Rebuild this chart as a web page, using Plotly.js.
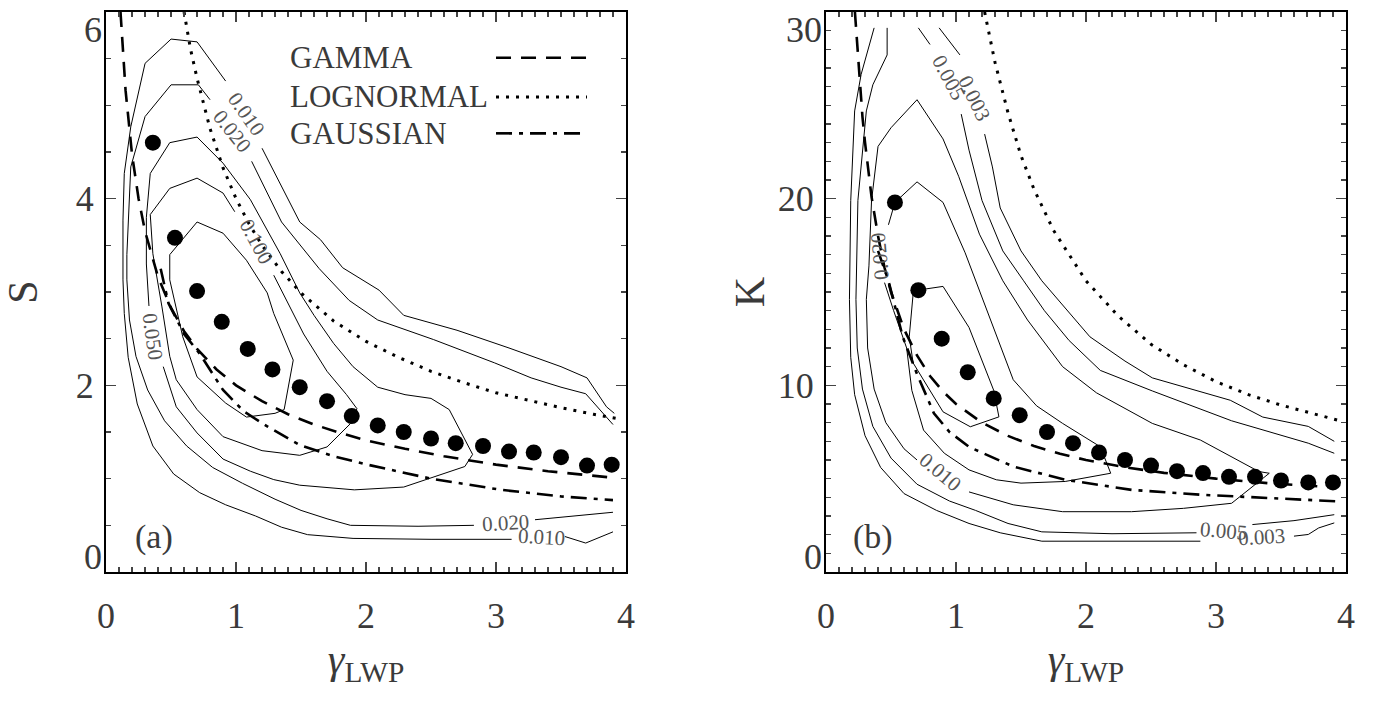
<!DOCTYPE html>
<html>
<head>
<meta charset="utf-8">
<script src="https://cdn.plot.ly/plotly-3.0.1.min.js"></script>
<style>html,body{margin:0;padding:0;background:#fff;}#chart{width:1374px;height:702px;}</style>
</head>
<body>
<div id="chart"></div>
<script>
// ---------------- DATA ----------------
const xTicks = [0, 1, 2, 3, 4];
const sTicks = [0, 2, 4, 6];
const kTicks = [0, 10, 20, 30];

// Panel (a): gamma_LWP vs skewness S
const dotsA_x = [0.36,0.53,0.70,0.89,1.09,1.28,1.49,1.70,1.89,2.09,2.29,2.50,2.69,2.90,3.10,3.29,3.50,3.70,3.89];
const dotsA_y = [4.60,3.58,3.01,2.68,2.39,2.17,1.98,1.83,1.67,1.57,1.50,1.43,1.38,1.35,1.29,1.28,1.23,1.14,1.15];

const gammaA = [[0.111,6.0],[0.13,5.55],[0.15,5.16],[0.2,4.47],[0.25,4.0],[0.3,3.65],[0.4,3.16],[0.5,2.83],[0.6,2.58],[0.7,2.39],[0.85,2.17],[1.0,2.0],[1.2,1.83],[1.4,1.69],[1.6,1.58],[1.8,1.49],[2.0,1.41],[2.3,1.32],[2.6,1.24],[3.0,1.15],[3.4,1.08],[3.9,1.01]];
const lognA = [[0.60,6.0],[0.65,5.6],[0.7,5.29],[0.8,4.75],[0.9,4.33],[1.0,4.0],[1.1,3.73],[1.2,3.50],[1.35,3.22],[1.5,2.99],[1.75,2.69],[2.0,2.47],[2.25,2.30],[2.5,2.15],[2.75,2.03],[3.0,1.92],[3.25,1.84],[3.5,1.76],[3.75,1.69],[3.95,1.64]];
const gaussA = [[0.42,3.25],[0.48,2.88],[0.6,2.55],[0.72,2.34],[0.9,1.95],[1.06,1.72],[1.24,1.56],[1.49,1.36],[1.75,1.24],[2.01,1.15],[2.5,1.0],[3.04,0.88],[3.5,0.81],[3.9,0.77]];

// contour segments, panel (a)
const a010_1 = [[3.12,0.35],[2.50,0.35],[1.90,0.36],[1.55,0.40],[1.35,0.48],[1.15,0.60],[0.92,0.72],[0.72,0.85],[0.52,1.05],[0.36,1.35],[0.24,1.80],[0.17,2.30],[0.14,2.77],[0.13,3.13],[0.13,3.77],[0.14,4.27],[0.19,4.77],[0.26,5.20],[0.30,5.45],[0.50,5.71],[0.70,5.68],[0.92,5.26]];
const a010_2 = [[1.20,4.54],[1.49,3.75],[1.65,3.56],[1.82,3.26],[2.10,3.02],[2.29,2.75],[2.70,2.59],[3.10,2.40],[3.50,2.20],[3.70,2.08],[3.85,1.77],[3.91,1.70]];
const a010_3 = [[3.53,0.38],[3.69,0.31],[3.90,0.43]];
const a020_1 = [[2.83,0.50],[2.40,0.49],[1.88,0.50],[1.70,0.57],[1.50,0.66],[1.30,0.78],[1.05,0.95],[0.82,1.12],[0.62,1.35],[0.45,1.62],[0.32,1.95],[0.23,2.31],[0.18,2.70],[0.16,3.13],[0.16,3.40],[0.17,3.77],[0.19,4.34],[0.30,4.88],[0.50,5.22],[0.71,5.22],[0.80,5.06]];
const a020_2 = [[1.12,4.40],[1.35,3.75],[1.64,3.25],[1.87,2.91],[2.09,2.70],[2.52,2.49],[2.99,2.24],[3.27,2.08],[3.50,1.98],[3.69,1.91],[3.90,1.58]];
const a020_3 = [[3.30,0.56],[3.71,0.61],[3.90,0.64]];
const a050_1 = [[0.33,2.85],[0.31,3.30],[0.31,3.80],[0.34,4.27],[0.49,4.60],[0.70,4.66],[0.90,4.38],[1.11,3.99],[1.34,3.41],[1.49,2.99],[1.60,2.75],[1.75,2.45],[1.90,2.20],[2.09,1.98],[2.30,1.90],[2.50,1.86],[2.64,1.74],[2.82,1.26],[2.76,1.13],[2.47,0.99],[2.29,0.91],[1.91,0.88],[1.49,0.93],[1.29,0.99],[1.11,1.08],[0.90,1.21],[0.70,1.49],[0.54,1.77],[0.44,2.20]];
const a100_1 = [[0.99,3.86],[0.90,4.06],[0.70,4.22],[0.49,4.11],[0.34,3.83],[0.36,3.41],[0.43,2.84],[0.49,2.31],[0.54,2.06],[0.70,1.74],[0.90,1.45],[1.20,1.30],[1.49,1.25],[1.70,1.34],[1.88,1.59],[1.93,1.75],[1.85,1.90],[1.70,2.15],[1.52,2.55],[1.39,2.91],[1.29,3.18]];
const a200_1 = [[0.49,3.40],[0.70,3.75],[0.90,3.63],[1.08,3.34],[1.24,2.99],[1.29,2.77],[1.44,2.27],[1.37,1.74],[1.30,1.70],[1.08,1.66],[0.92,1.81],[0.70,2.09],[0.59,2.52],[0.49,3.13],[0.49,3.40]];

// Panel (b): gamma_LWP vs kurtosis K
const dotsB_x = [0.53,0.71,0.89,1.09,1.29,1.49,1.70,1.90,2.10,2.30,2.50,2.70,2.90,3.10,3.30,3.50,3.71,3.90];
const dotsB_y = [19.8,15.1,12.5,10.7,9.3,8.4,7.5,6.9,6.4,6.0,5.7,5.4,5.3,5.1,5.1,4.9,4.8,4.8];

const gammaB = [[0.222,30],[0.25,27],[0.28,24.4],[0.3,23],[0.35,20.1],[0.4,18],[0.45,16.3],[0.5,15],[0.6,13],[0.7,11.6],[0.8,10.5],[0.9,9.67],[1.0,9],[1.2,8],[1.4,7.29],[1.6,6.75],[1.8,6.33],[2.0,6],[2.3,5.61],[2.6,5.31],[3.0,5],[3.4,4.76],[3.9,4.54]];
const lognB = [[1.22,30],[1.3,27.3],[1.4,24.6],[1.5,22.3],[1.6,20.5],[1.75,18.3],[2.0,15.6],[2.25,13.7],[2.5,12.2],[2.75,11.1],[3.0,10.2],[3.25,9.5],[3.5,8.94],[3.75,8.47],[3.95,8.11]];
const gaussB = [[0.40,17.2],[0.48,15.6],[0.59,12.6],[0.70,10.6],[0.83,8.5],[0.95,7.5],[1.10,6.7],[1.44,5.65],[1.84,4.94],[2.35,4.40],[2.88,4.14],[3.41,3.96],[3.95,3.78]];

// contour segments, panel (b)
const b003_1 = [[0.87,29.15],[1.03,27.7]];
const b003_2 = [[1.22,23.46],[1.28,21.7],[1.34,19.5],[1.50,17.2],[1.66,15.6],[1.87,13.9],[2.03,12.6],[2.30,11.3],[2.51,10.4],[3.11,9.2],[3.36,8.3],[3.71,7.8],[3.91,7.0]];
const b003_3 = [[0.37,29.15],[0.27,26.66],[0.22,24.7],[0.19,19.9],[0.18,14.6],[0.19,11.5],[0.22,9.5],[0.30,7.3],[0.42,5.6],[0.60,4.2],[0.85,3.3],[1.10,2.6],[1.34,2.10],[1.66,1.65],[2.88,1.65]];
const b003_4 = [[3.60,1.92],[3.71,2.01],[3.79,2.36],[3.91,2.63]];
const b005_1 = [[0.71,29.15],[0.80,28.26]];
const b005_2 = [[1.04,24.53],[1.10,22.6],[1.20,19.9],[1.36,17.2],[1.52,15.6],[1.68,14.0],[1.87,12.4],[2.11,10.8],[2.51,9.7],[3.12,8.1],[3.71,6.9],[3.91,6.36]];
const b005_3 = [[0.47,29.15],[0.47,27.7],[0.36,26.1],[0.31,24.7],[0.245,19.9],[0.23,14.6],[0.24,12.0],[0.28,9.8],[0.36,7.8],[0.50,6.1],[0.70,4.7],[0.95,3.8],[1.15,3.3],[1.40,2.6],[1.66,2.15],[2.20,2.05],[2.85,2.10]];
const b005_4 = [[3.28,2.54],[3.60,2.75],[3.91,3.07]];
const b010_1 = [[0.70,6.0],[0.60,6.6],[0.46,8.0],[0.37,9.8],[0.32,12.0],[0.31,14.6],[0.33,16.4],[0.35,19.9],[0.40,22.8],[0.50,23.8],[0.70,25.3],[0.90,23.2],[1.02,21.2],[1.18,18.1],[1.36,15.6],[1.55,13.5],[1.82,11.0],[2.08,9.6],[2.51,7.96],[2.88,7.07],[3.33,5.38],[3.41,5.29],[3.12,3.68],[2.75,3.41],[2.35,3.23],[1.82,3.23],[1.44,3.60],[1.10,4.29]];
const b020_1 = [[0.45,15.5],[0.52,14.0],[0.62,12.0],[0.66,9.73],[0.75,7.6],[0.91,6.36],[1.10,5.47],[1.31,4.94],[1.50,4.76],[1.84,4.85],[2.19,5.29],[2.11,6.71],[1.82,7.96],[1.62,8.9],[1.44,10.3],[1.32,12.5],[1.20,14.8],[1.07,17.1],[0.90,19.8],[0.70,20.9],[0.53,19.8],[0.50,19.0],[0.48,18.6]];
const b050_1 = [[0.706,15.1],[0.90,15.3],[1.10,13.1],[1.29,9.73],[1.33,8.31],[1.11,7.78],[0.90,8.58],[0.67,11.2],[0.64,12.6],[0.67,14.9],[0.706,15.1]];

// contour labels: [x, y, text, angle]
const labelsA = [[1.08,4.91,'0.010',55],[0.97,4.73,'0.020',52],[1.16,3.54,'0.100',62],[0.36,2.52,'0.050',82],[3.07,0.53,'0.020',-3],[3.35,0.38,'0.010',3]];
const labelsB = [[0.94,26.5,'0.005',62],[1.14,25.4,'0.003',64],[0.41,16.9,'0.020',-95],[0.88,5.38,'0.010',40],[3.06,2.18,'0.005',5],[3.35,1.88,'0.003',-3]];

const legendNames = ['GAMMA', 'LOGNORMAL', 'GAUSSIAN'];
const legendRowsS = [5.51, 5.09, 4.70];

// ---------------- STYLE ----------------
const SERIF = 'Liberation Serif, Times New Roman, serif';
const TXT = '#3a3a3a';
const dashStyles = ['15px,10px', '3px,7px', '16px,7px,4px,7px'];
const curveWidths = [2.6, 3, 2.6];

const traces = [];
function xs(p){return p.map(d=>d[0]);}
function ys(p){return p.map(d=>d[1]);}
function contour(seg, xa, ya){
  traces.push({type:'scatter', mode:'lines', x:xs(seg), y:ys(seg), xaxis:xa, yaxis:ya,
    line:{color:'#000', width:1}, hoverinfo:'skip', showlegend:false});
}
function curve(seg, xa, ya, i){
  traces.push({type:'scatter', mode:'lines', x:xs(seg), y:ys(seg), xaxis:xa, yaxis:ya,
    line:{color:'#000', width:curveWidths[i], dash:dashStyles[i]}, hoverinfo:'skip', showlegend:false});
}
[a010_1,a010_2,a010_3,a020_1,a020_2,a020_3,a050_1,a100_1,a200_1].forEach(s=>contour(s,'x','y'));
[b003_1,b003_2,b003_3,b003_4,b005_1,b005_2,b005_3,b005_4,b010_1,b020_1,b050_1].forEach(s=>contour(s,'x2','y2'));
[gammaA,lognA,gaussA].forEach((s,i)=>curve(s,'x','y',i));
[gammaB,lognB,gaussB].forEach((s,i)=>curve(s,'x2','y2',i));
traces.push({type:'scatter', mode:'markers', x:dotsA_x, y:dotsA_y, xaxis:'x', yaxis:'y',
  marker:{color:'#000', size:16}, showlegend:false});
traces.push({type:'scatter', mode:'markers', x:dotsB_x, y:dotsB_y, xaxis:'x2', yaxis:'y2',
  marker:{color:'#000', size:16}, showlegend:false});

const tickFont = {family:SERIF, size:36, color:TXT};
function xAxis(dom, anchor){
  return {domain:dom, anchor:anchor, range:[0,4], tickvals:xTicks, ticks:'inside', ticklen:10, tickwidth:1.5,
    showline:true, linewidth:2, linecolor:'#000', mirror:'ticks', showgrid:false, zeroline:false,
    minor:{dtick:0.1, ticklen:5, tickwidth:1.2, ticks:'inside', showgrid:false},
    tickfont:tickFont, ticklabelstandoff:11, ticklabeloverflow:'allow',
    title:{text:'<i>γ</i><sub>LWP</sub>', font:{family:SERIF, size:42, color:TXT}, standoff:0},
    automargin:false, fixedrange:true};
}
// main y axis: frame, ticks and the inner labels
function yAxis(anchor, rng, tv, minorStep, title, standoff){
  return {domain:yDom, anchor:anchor, range:rng, tickvals:tv, ticktext:tv.map((v,i)=>(i===0||i===tv.length-1)?'':String(v)),
    ticks:'inside', ticklen:10, tickwidth:1.5,
    showline:true, linewidth:2, linecolor:'#000', mirror:'ticks', showgrid:false, zeroline:false,
    minor:{dtick:minorStep, ticklen:5, tickwidth:1.2, ticks:'inside', showgrid:false},
    tickfont:tickFont, ticklabelstandoff:3, ticklabeloverflow:'allow',
    automargin:false, fixedrange:true,
    title:{text:title, font:{family:SERIF, size:42, color:TXT}, standoff:standoff}};
}
// label-only overlay axis for an end label nudged inwards (as in the reference)
function endLabelAxis(over, anchor, rng, val, shift){
  return {domain:yDom, overlaying:over, anchor:anchor, side:'left', range:rng, tickvals:[val], ticktext:[String(val)],
    ticks:'', showline:false, showgrid:false, zeroline:false, tickfont:tickFont,
    ticklabelstandoff:3, ticklabelshift:shift, ticklabeloverflow:'allow', automargin:false, fixedrange:true};
}

const yDom = [0.1852, 0.9829];
const layout = {
  width:1374, height:702, margin:{l:0, r:0, t:0, b:0},
  paper_bgcolor:'#fff', plot_bgcolor:'#fff', showlegend:false,
  xaxis: xAxis([0.0772, 0.4556], 'y'),
  xaxis2: xAxis([0.6012, 0.9796], 'y2'),
  yaxis: yAxis('x', [0,6], sTicks, 0.5, 'S', 26),
  yaxis2: yAxis('x2', [0,30], kTicks, 1, 'K', 0),
  yaxis3: endLabelAxis('y', 'x', [0,6], sTicks[sTicks.length-1], 17),
  yaxis4: endLabelAxis('y', 'x', [0,6], sTicks[0], -16),
  yaxis5: endLabelAxis('y2', 'x2', [0,30], kTicks[kTicks.length-1], 17),
  yaxis6: endLabelAxis('y2', 'x2', [0,30], kTicks[0], -16),
  annotations:[], shapes:[]
};

function addLabels(list, xr, yr){
  list.forEach(l=>layout.annotations.push({x:l[0], y:l[1], xref:xr, yref:yr, text:l[2], textangle:l[3],
    showarrow:false, font:{family:SERIF, size:21, color:'#555'}}));
}
addLabels(labelsA,'x','y');
addLabels(labelsB,'x2','y2');

// panel letters
layout.annotations.push({x:0.37, y:0.38, xref:'x', yref:'y', text:'(a)', showarrow:false, font:{family:SERIF, size:34, color:TXT}});
layout.annotations.push({x:0.36, y:1.87, xref:'x2', yref:'y2', text:'(b)', showarrow:false, font:{family:SERIF, size:34, color:TXT}});

// legend (text left, line sample right)
legendNames.forEach((n,i)=>{
  layout.annotations.push({x:1.40, y:legendRowsS[i], xref:'x', yref:'y', xanchor:'left', text:n, showarrow:false,
    font:{family:SERIF, size:31, color:TXT}});
  layout.shapes.push({type:'line', xref:'x', yref:'y', x0:3.0, x1:3.70, y0:legendRowsS[i], y1:legendRowsS[i],
    line:{color:'#000', width:curveWidths[i], dash:dashStyles[i]}});
});

// empty traces so the overlay label axes are drawn
['y3','y4'].forEach(ya=>traces.push({type:'scatter', mode:'markers', x:[], y:[], xaxis:'x', yaxis:ya, showlegend:false}));
['y5','y6'].forEach(ya=>traces.push({type:'scatter', mode:'markers', x:[], y:[], xaxis:'x2', yaxis:ya, showlegend:false}));

Plotly.newPlot('chart', traces, layout, {displayModeBar:false, staticPlot:true});
</script>
</body>
</html>
